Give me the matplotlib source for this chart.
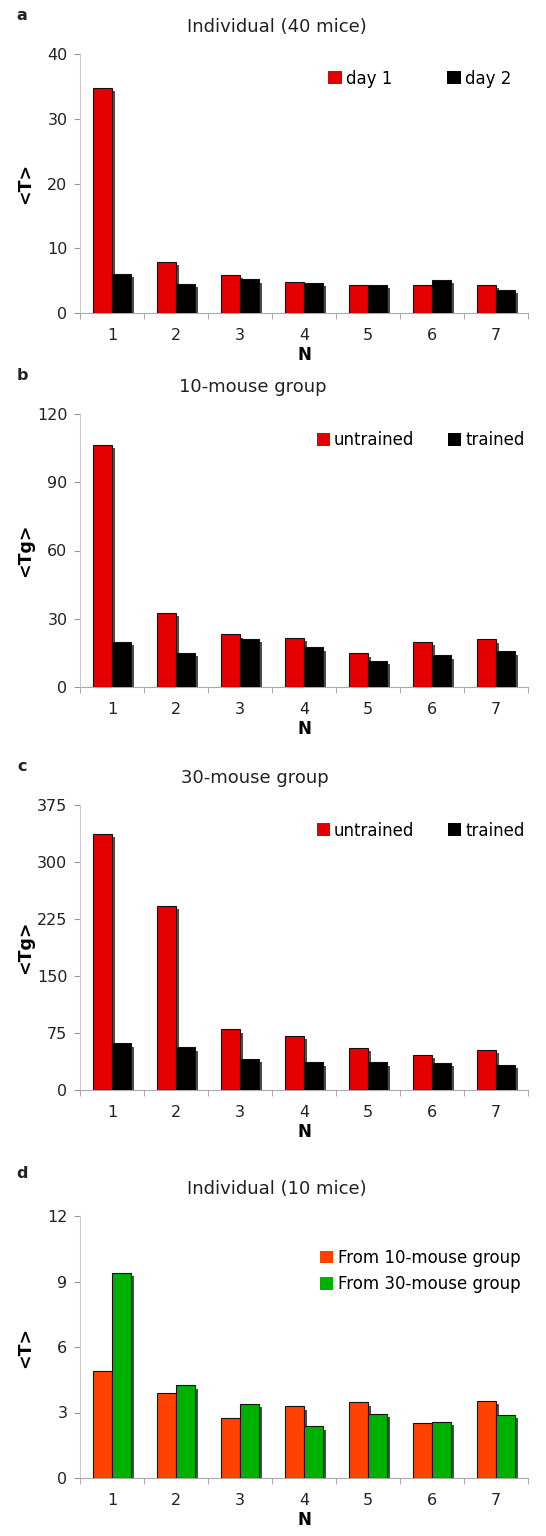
import numpy as np
import matplotlib
matplotlib.use('Agg')
import matplotlib.pyplot as plt
from matplotlib.patches import Patch
import matplotlib.patheffects as pe

plt.rcParams['font.family'] = 'DejaVu Sans'

N = [1, 2, 3, 4, 5, 6, 7]

# panel a: individual mice, 40 animals
day1 = [34.8, 7.9, 5.9, 4.8, 4.3, 4.4, 4.4]
day2 = [6.0, 4.5, 5.2, 4.7, 4.4, 5.1, 3.6]

# panel b: 10-mouse group
b_untrained = [106.4, 32.7, 23.2, 21.7, 14.8, 19.8, 21.0]
b_trained = [19.9, 15.1, 21.1, 17.5, 11.6, 13.9, 15.7]

# panel c: 30-mouse group
c_untrained = [337, 242.5, 80, 71, 55.3, 46.5, 53]
c_trained = [61.4, 56.2, 40.8, 36.4, 36.4, 36.0, 32.9]

# panel d: individual mice, 10 animals
from10 = [4.9, 3.9, 2.73, 3.28, 3.46, 2.5, 3.52]
from30 = [9.41, 4.25, 3.4, 2.36, 2.93, 2.56, 2.9]

RED = '#e40000'
BLACK = '#000000'
ORANGE = '#ff4200'
GREEN = '#00b000'
W, H = 546, 1536

fig = plt.figure(figsize=(W / 100, H / 100), dpi=100)

shadow = [pe.SimplePatchShadow(offset=(2.4, -2.4), shadow_rgbFace='#3a3a3a', alpha=0.9),
          pe.Normal()]


def panel(top, bottom, letter, title, title_x, ylabel, s1, s2, names, colors,
          ymax, yticks, leg_x, leg_y, ncol, colspace):
    ax = fig.add_axes([80 / W, 1 - bottom / H, 448 / W, (bottom - top) / H])
    x = np.array(N)
    bw = 0.29
    for vals, off, col in [(s1, -bw / 2, colors[0]), (s2, bw / 2, colors[1])]:
        bars = ax.bar(x + off, vals, width=bw, color=col, edgecolor='#111111',
                      linewidth=0.8, zorder=3)
        for b in bars:
            b.set_path_effects(shadow)
    ax.set_xlim(0.5, 7.5)
    ax.set_ylim(0, ymax)
    ax.set_yticks(yticks)
    ax.set_xticks(x)
    ax.set_xticks(np.arange(0.5, 8.0, 1.0), minor=True)
    ax.tick_params(axis='x', which='major', length=0, pad=11, labelsize=11.5,
                   labelcolor='#222222')
    ax.tick_params(axis='x', which='minor', length=4, color='#999999', direction='out')
    ax.tick_params(axis='y', length=4, color='#999999', pad=5, labelsize=11.5,
                   labelcolor='#222222')
    for s in ['top', 'right']:
        ax.spines[s].set_visible(False)
    ax.spines['left'].set_color('#cccccc')
    ax.spines['bottom'].set_color('#aaaaaa')
    ax.set_xlabel('N', fontsize=12, fontweight='bold', labelpad=2)
    fig.text(25 / W, 1 - (top + bottom) / 2 / H, ylabel, rotation=90,
             ha='center', va='center', fontsize=12.5, fontweight='bold')
    fig.text(22 / W, 1 - (top - 38 if letter != 'd' else top - 42) / H, letter,
             ha='center', va='center', fontsize=11.5, fontweight='bold',
             color='#222222')
    fig.text(title_x / W, 1 - (top - 27) / H, title, ha='center', va='center',
             fontsize=13, color='#222222')
    handles = [Patch(facecolor=c, edgecolor='none') for c in colors]
    ax.legend(handles, names, loc='center right', bbox_to_anchor=(leg_x, leg_y),
              ncol=ncol, frameon=False, fontsize=12, handlelength=0.8,
              handleheight=0.8, handletextpad=0.25,
              columnspacing=colspace, labelspacing=0.5,
              borderaxespad=0.0, borderpad=0.2)
    return ax


panel(54, 313, 'a', 'Individual (40 mice)', 277, '<T>', day1, day2,
      ['day 1', 'day 2'], [RED, BLACK], 40, [0, 10, 20, 30, 40], 0.97, 0.905, 2, 3.3)
panel(414, 687, 'b', '10-mouse group', 253, '<Tg>', b_untrained, b_trained,
      ['untrained', 'trained'], [RED, BLACK], 120, [0, 30, 60, 90, 120], 1.0, 0.905, 2, 2.0)
panel(805, 1090, 'c', '30-mouse group', 255, '<Tg>', c_untrained, c_trained,
      ['untrained', 'trained'], [RED, BLACK], 375, [0, 75, 150, 225, 300, 375],
      1.0, 0.91, 2, 2.0)
panel(1216, 1478, 'd', 'Individual (10 mice)', 277, '<T>', from10, from30,
      ['From 10-mouse group', 'From 30-mouse group'], [ORANGE, GREEN], 12,
      [0, 3, 6, 9, 12], 0.99, 0.79, 1, 1.0)

fig.savefig('out.png', dpi=100)
